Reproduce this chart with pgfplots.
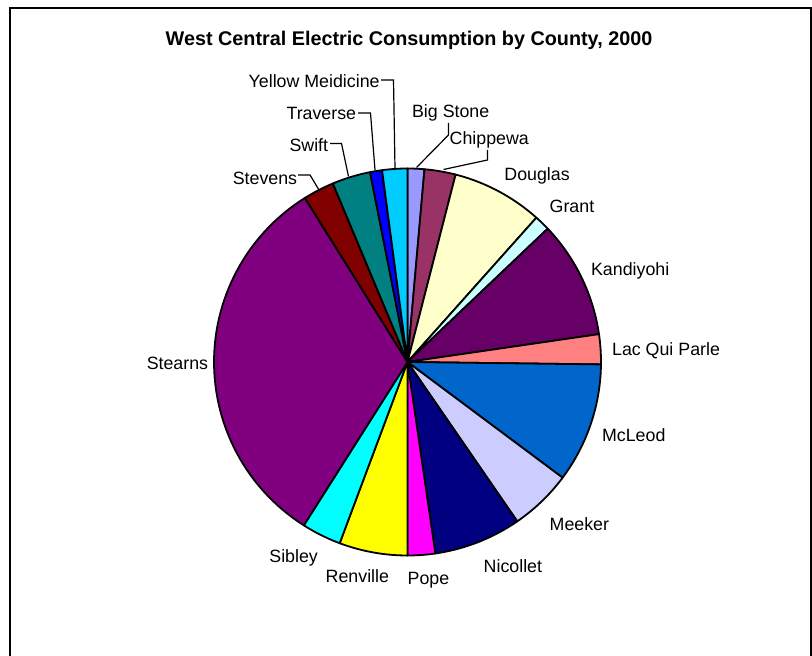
\documentclass[border=0pt]{standalone}
\usepackage{pgfplots}
\pgfplotsset{compat=1.18}
\usepackage{fontspec}
\setmainfont{Liberation Sans}

% Excel-style palette
\definecolor{cBigStone}{HTML}{9999FF}
\definecolor{cChippewa}{HTML}{993366}
\definecolor{cDouglas}{HTML}{FFFFCC}
\definecolor{cGrant}{HTML}{CCFFFF}
\definecolor{cKandiyohi}{HTML}{660066}
\definecolor{cLacQuiParle}{HTML}{FF8080}
\definecolor{cMcLeod}{HTML}{0066CC}
\definecolor{cMeeker}{HTML}{CCCCFF}
\definecolor{cNicollet}{HTML}{000080}
\definecolor{cPope}{HTML}{FF00FF}
\definecolor{cRenville}{HTML}{FFFF00}
\definecolor{cSibley}{HTML}{00FFFF}
\definecolor{cStearns}{HTML}{800080}
\definecolor{cStevens}{HTML}{800000}
\definecolor{cSwift}{HTML}{008080}
\definecolor{cTraverse}{HTML}{0000FF}
\definecolor{cYellowMed}{HTML}{00CCFF}

% pie geometry (pixel units of the reference, y pointing down)
\newcommand{\cx}{407.5}
\newcommand{\cy}{362}
\newcommand{\rr}{193.5}
\gdef\cum{0}
% #1 = share in percent, #2 = colour; slices run clockwise from 12 o'clock
\newcommand{\slice}[2]{%
  \pgfmathsetmacro{\aA}{3.6*\cum}%
  \pgfmathsetmacro{\aB}{3.6*(\cum+#1)}%
  \pgfmathsetmacro{\newcum}{\cum+#1}\xdef\cum{\newcum}%
  \edef\doit{\noexpand\addplot[fill=#2, draw=black, line width=0.9pt, line join=round,
     domain=\aA:\aB, samples=60, variable=\noexpand\t]
     ({\cx+\rr*sin(\noexpand\t)},{\cy-\rr*cos(\noexpand\t)}) -- (axis cs:\cx,\cy) -- cycle;}%
  \doit}

\newcommand{\lbl}{\fontsize{8.9}{10.7}\selectfont}

\begin{document}
\begin{tikzpicture}
\begin{axis}[
  at={(0,0)}, anchor=south west,
  scale only axis, width=406pt, height=328pt,
  xmin=0, xmax=812, ymin=0, ymax=656, y dir=reverse,
  hide axis, clip=false]

% shares of consumption (percent), alphabetical order, clockwise
\slice{1.4}{cBigStone}    % Big Stone
\slice{2.6}{cChippewa}    % Chippewa
\slice{7.6}{cDouglas}     % Douglas
\slice{1.3}{cGrant}       % Grant
\slice{9.8}{cKandiyohi}   % Kandiyohi
\slice{2.5}{cLacQuiParle} % Lac Qui Parle
\slice{10.0}{cMcLeod}     % McLeod
\slice{5.2}{cMeeker}      % Meeker
\slice{7.3}{cNicollet}    % Nicollet
\slice{2.3}{cPope}        % Pope
\slice{5.7}{cRenville}    % Renville
\slice{3.3}{cSibley}      % Sibley
\slice{32.1}{cStearns}    % Stearns
\slice{2.6}{cStevens}     % Stevens
\slice{3.2}{cSwift}       % Swift
\slice{1.0}{cTraverse}    % Traverse
\slice{2.1}{cYellowMed}   % Yellow Medicine

% frame
\draw[line width=1pt] (axis cs:9.5,8) rectangle (axis cs:810.5,690);

% title
\node[anchor=base, inner sep=0pt, font=\bfseries\fontsize{9.9}{12}\selectfont]
  at (axis cs:409,46) {West Central Electric Consumption by County, 2000};

% leader lines
\draw[line width=0.6pt] (axis cs:381,80) -- (axis cs:393.5,80) -- (axis cs:395,168.5);
\draw[line width=0.6pt] (axis cs:358,113) -- (axis cs:370.5,113) -- (axis cs:375,170);
\draw[line width=0.6pt] (axis cs:330,143.5) -- (axis cs:341.5,143.5) -- (axis cs:348.5,176.5);
\draw[line width=0.6pt] (axis cs:298,175) -- (axis cs:310,175) -- (axis cs:319,190);
\draw[line width=0.6pt] (axis cs:448.5,123) -- (axis cs:448.5,135) -- (axis cs:416.5,167.5);
\draw[line width=0.6pt] (axis cs:487.5,150) -- (axis cs:487.5,160) -- (axis cs:443.5,169.5);

% labels
\begin{scope}[every node/.style={inner sep=0pt, font=\lbl}]
\node[anchor=base east] at (axis cs:380,87.5) {Yellow Meidicine};
\node[anchor=base east] at (axis cs:356.5,120) {Traverse};
\node[anchor=base east] at (axis cs:328.5,151.7) {Swift};
\node[anchor=base east] at (axis cs:297.5,184.3) {Stevens};
\node[anchor=base east] at (axis cs:208.5,370) {Stearns};
\node[anchor=base west] at (axis cs:411.7,117.7) {Big Stone};
\node[anchor=base west] at (axis cs:449.3,144.4) {Chippewa};
\node[anchor=base west] at (axis cs:504,181) {Douglas};
\node[anchor=base west] at (axis cs:549.3,212.7) {Grant};
\node[anchor=base west] at (axis cs:590.7,276) {Kandiyohi};
\node[anchor=base west] at (axis cs:611.7,356) {Lac Qui Parle};
\node[anchor=base west] at (axis cs:601.7,441.7) {McLeod};
\node[anchor=base west] at (axis cs:549.3,530.4) {Meeker};
\node[anchor=base west] at (axis cs:483.3,572) {Nicollet};
\node[anchor=base west] at (axis cs:407.3,584.4) {Pope};
\node[anchor=base west] at (axis cs:325.3,582.7) {Renville};
\node[anchor=base west] at (axis cs:269,562) {Sibley};
\end{scope}
\end{axis}
\pgfresetboundingbox
\path[use as bounding box] (0,0) rectangle (406pt,328pt);
\end{tikzpicture}
\end{document}
